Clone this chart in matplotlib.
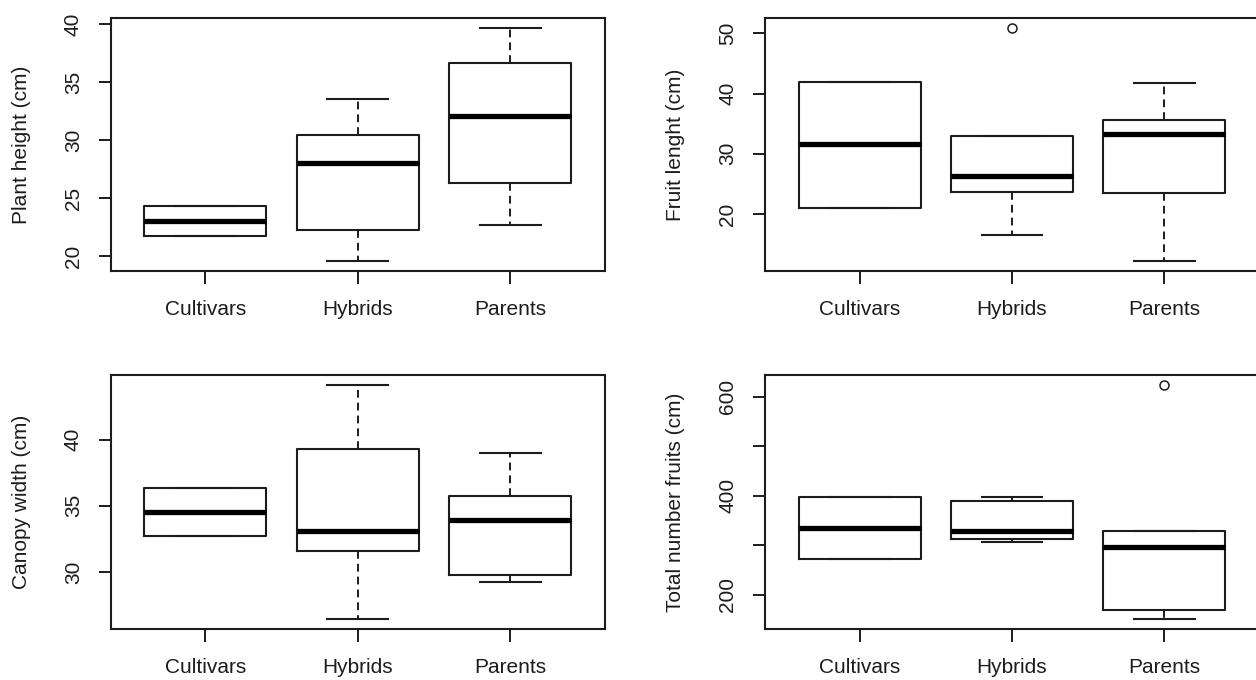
import matplotlib
matplotlib.use('Agg')
import matplotlib.pyplot as plt

plt.rcParams['font.family'] = ['Liberation Sans', 'DejaVu Sans']
plt.rcParams['font.size'] = 15

# data
groups = ['Cultivars', 'Hybrids', 'Parents']

# plant height (cm)
ph_q1 = [21.8, 22.25, 26.36]
ph_med = [23.06, 28.09, 32.08]
ph_q3 = [24.35, 30.44, 36.68]
ph_lo = [21.8, 19.58, 22.71]
ph_hi = [24.35, 33.6, 39.7]
ph_out = [[], [], []]

# fruit lenght (cm)
fl_q1 = [20.95, 23.66, 23.44]
fl_med = [31.57, 26.38, 33.34]
fl_q3 = [41.99, 32.9, 35.61]
fl_lo = [20.95, 16.46, 12.14]
fl_hi = [41.99, 32.9, 41.7]
fl_out = [[], [50.95], []]

# canopy width (cm)
cw_q1 = [32.69, 31.58, 29.8]
cw_med = [34.55, 33.11, 33.95]
cw_q3 = [36.33, 39.3, 35.78]
cw_lo = [32.69, 26.45, 29.22]
cw_hi = [36.33, 44.14, 38.97]
cw_out = [[], [], []]

# total number fruits
tn_q1 = [271.4, 312.5, 169.5]
tn_med = [334.0, 328.8, 296.4]
tn_q3 = [398.2, 388.8, 328.8]
tn_lo = [271.4, 307.2, 150.6]
tn_hi = [398.2, 398.0, 328.8]
tn_out = [[], [], [624.0]]

panels = [
    ('Plant height (cm)', ph_q1, ph_med, ph_q3, ph_lo, ph_hi, ph_out, [20, 25, 30, 35, 40], None),
    ('Fruit lenght (cm)', fl_q1, fl_med, fl_q3, fl_lo, fl_hi, fl_out, [20, 30, 40, 50], None),
    ('Canopy width (cm)', cw_q1, cw_med, cw_q3, cw_lo, cw_hi, cw_out, [30, 35, 40], None),
    ('Total number fruits (cm)', tn_q1, tn_med, tn_q3, tn_lo, tn_hi, tn_out,
     [200, 300, 400, 500, 600], ['200', '', '400', '', '600']),
]

W, H = 1256, 680
# axes rectangles in pixels: left, top, width, height
rects = [(110.7, 18.3, 494, 252.4), (765, 18.3, 494, 252.4),
         (110.7, 375.3, 494, 253.3), (765, 375.3, 494, 253.3)]

ink = '#1c1c1c'
fig = plt.figure(figsize=(W / 100, H / 100), dpi=100)

for (ylab, q1, med, q3, lo, hi, out, yt, ytl), (l, t, w, h) in zip(panels, rects):
    ax = fig.add_axes([l / W, 1 - (t + h) / H, w / W, h / H])
    stats = []
    for i in range(len(groups)):
        stats.append({'q1': q1[i], 'med': med[i], 'q3': q3[i],
                      'whislo': lo[i], 'whishi': hi[i], 'fliers': out[i]})
    ax.bxp(stats, positions=[1, 2, 3], widths=0.8, capwidths=0.4,
           boxprops=dict(color=ink, linewidth=1.5),
           medianprops=dict(color='black', linewidth=3.8, solid_capstyle='butt'),
           whiskerprops=dict(color=ink, linewidth=1.4, linestyle=(0, (4, 2.6))),
           capprops=dict(color=ink, linewidth=1.5),
           flierprops=dict(marker='o', markersize=6.5, markerfacecolor='none',
                           markeredgecolor=ink, markeredgewidth=1.1))

    # R style axis ranges: 4% padding
    allv = lo + hi + [v for o in out for v in o]
    vmin, vmax = min(allv), max(allv)
    pad = 0.04 * (vmax - vmin)
    ax.set_ylim(vmin - pad, vmax + pad)
    xpad = 0.04 * len(groups)
    ax.set_xlim(0.5 - xpad, len(groups) + 0.5 + xpad)

    ax.set_xticks([1, 2, 3])
    ax.set_xticklabels(groups, color=ink)
    ax.set_yticks(yt)
    if ytl is not None:
        ax.set_yticklabels(ytl)
    for lab in ax.get_yticklabels():
        lab.set_rotation(90)
        lab.set_va('center')
        lab.set_color(ink)
    ax.tick_params(axis='both', direction='out', length=9, width=1.4, color=ink)
    ax.tick_params(axis='x', pad=12)
    ax.tick_params(axis='y', pad=11)
    for s in ax.spines.values():
        s.set_linewidth(1.5)
        s.set_color(ink)
    ax.set_ylabel(ylab, color=ink)
    ax.yaxis.set_label_coords(-0.162, 0.5)

fig.savefig('out.png', dpi=100)
